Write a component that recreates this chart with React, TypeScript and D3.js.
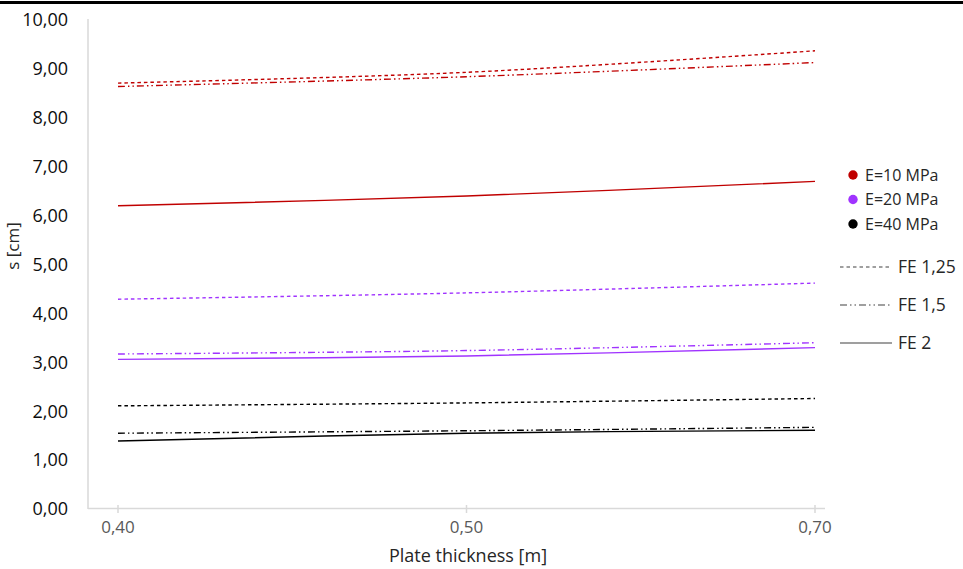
import React from "react";
import * as d3 from "d3";

const categories = ["0,40", "0,50", "0,70"];
const yTicks = [0, 1, 2, 3, 4, 5, 6, 7, 8, 9, 10];

const e10_fe125 = [8.71, 8.93, 9.37];
const e10_fe15 = [8.64, 8.84, 9.13];
const e10_fe2 = [6.2, 6.4, 6.7];
const e20_fe125 = [4.29, 4.42, 4.62];
const e20_fe15 = [3.17, 3.24, 3.4];
const e20_fe2 = [3.06, 3.13, 3.3];
const e40_fe125 = [2.11, 2.17, 2.26];
const e40_fe15 = [1.55, 1.6, 1.67];
const e40_fe2 = [1.39, 1.55, 1.61];

const moduli = ["E=10 MPa", "E=20 MPa", "E=40 MPa"];
const factors = ["FE 1,25", "FE 1,5", "FE 2"];

const colors = ["#C00000", "#A033FF", "#000000"];
const dashes = ["3.5,3", "7,3,1.5,3,1.5,3", ""];

const seriesValues = [
  [e10_fe125, e10_fe15, e10_fe2],
  [e20_fe125, e20_fe15, e20_fe2],
  [e40_fe125, e40_fe15, e40_fe2],
];

export default function App() {
  const W = 963;
  const H = 569;
  const x = d3.scalePoint<string>().domain(categories).range([118, 815]);
  const y = d3.scaleLinear().domain([0, 10]).range([509, 20]);
  const line = d3
    .line<number>()
    .x((_, i) => x(categories[i]) as number)
    .y((d) => y(d))
    .curve(d3.curveCatmullRom.alpha(0.5));

  const font = "'Open Sans', sans-serif";

  return (
    <svg
      width={W}
      height={H}
      style={{ position: "absolute", left: 0, top: 0, background: "#fff" }}
      fontFamily={font}
    >
      <rect x={0} y={0} width={W} height={H} fill="#fff" />
      <rect x={0} y={1} width={W} height={3} fill="#000" />

      {/* axes */}
      <line x1={88} x2={88} y1={19} y2={509} stroke="#d9d9d9" strokeWidth={1.5} />
      <line x1={88} x2={825} y1={508.5} y2={508.5} stroke="#d9d9d9" strokeWidth={1.5} />
      {categories.map((c) => (
        <line
          key={c}
          x1={x(c)}
          x2={x(c)}
          y1={505}
          y2={513}
          stroke="#d9d9d9"
          strokeWidth={1.5}
        />
      ))}

      {yTicks.map((t) => (
        <text
          key={t}
          x={68}
          y={y(t)}
          dy="0.35em"
          textAnchor="end"
          fontSize={18}
          fill="#0d0d0d"
        >
          {d3.format(".2f")(t).replace(".", ",")}
        </text>
      ))}
      {categories.map((c) => (
        <text key={c} x={x(c)} y={533} textAnchor="middle" fontSize={17} fill="#595959">
          {c}
        </text>
      ))}

      <text x={468} y={562} textAnchor="middle" fontSize={18} fill="#262626">
        Plate thickness [m]
      </text>
      <text
        transform="translate(19,246) rotate(-90)"
        textAnchor="middle"
        fontSize={17}
        fill="#262626"
      >
        s [cm]
      </text>

      {/* series */}
      {seriesValues.map((group, gi) =>
        group.map((vals, fi) => (
          <path
            key={`${gi}-${fi}`}
            d={line(vals) || ""}
            fill="none"
            stroke={colors[gi]}
            strokeWidth={1.4}
            strokeDasharray={dashes[fi] || undefined}
          />
        ))
      )}

      {/* legend */}
      {moduli.map((m, i) => (
        <g key={m} transform={`translate(853,${175 + i * 24.5})`}>
          <circle cx={0} cy={0} r={4.7} fill={colors[i]} />
          <text x={12} y={0} dy="0.35em" fontSize={16} fill="#262626">
            {m}
          </text>
        </g>
      ))}
      {factors.map((f, i) => (
        <g key={f} transform={`translate(840,${267 + i * 38})`}>
          <line
            x1={0}
            x2={52}
            y1={0}
            y2={0}
            stroke="#404040"
            strokeWidth={1.2}
            strokeDasharray={dashes[i] || undefined}
          />
          <text x={58} y={0} dy="0.35em" fontSize={17.5} fill="#262626">
            {f}
          </text>
        </g>
      ))}
    </svg>
  );
}
